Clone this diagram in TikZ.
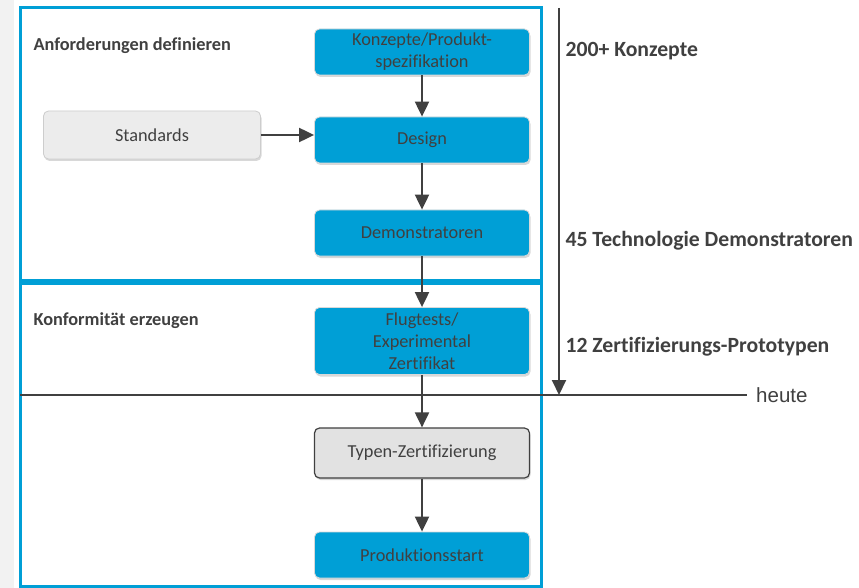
\documentclass[tikz,border=0pt]{standalone}
\usepackage{fontspec}
\setmainfont{Carlito}[Ligatures=NoCommon]
\newfontfamily\arialfont{Liberation Sans}
\usetikzlibrary{arrows.meta,shadows}
\definecolor{cblue}{RGB}{0,159,214}
\definecolor{ctext}{RGB}{64,64,64}
\definecolor{cgrayfill}{RGB}{226,226,226}
\definecolor{cstdfill}{RGB}{236,236,236}
\definecolor{cstdline}{RGB}{205,205,205}
\tikzset{
  bluebox/.style={rectangle, rounded corners=5pt, fill=cblue, draw=white!85!black, line width=0.8pt,
    minimum width=215pt, minimum height=46pt, text=ctext, align=center, inner sep=2pt, font=\fontsize{18.3}{22}\selectfont,
    drop shadow={shadow xshift=1pt, shadow yshift=-2pt, opacity=0.3}},
  graybox/.style={bluebox, fill=cgrayfill, draw=ctext, line width=1.2pt, minimum height=50pt},
  stdbox/.style={bluebox, fill=cstdfill, draw=cstdline, minimum width=217pt, minimum height=48pt},
  flow/.style={draw=ctext, line width=2pt, -{Triangle[width=14pt,length=15pt]}},
  frame/.style={draw=cblue, line width=3pt},
  sidelabel/.style={anchor=west, text=ctext, font=\bfseries\fontsize{21.7}{25}\selectfont},
  boxlabel/.style={anchor=west, text=ctext, font=\bfseries\fontsize{18.3}{22}\selectfont}
}
\begin{document}
\begin{tikzpicture}[x=1pt,y=-1pt]
\useasboundingbox (0,0) rectangle (859,588);
\fill[black!5] (0,0) rectangle (14,588);
\fill[white] (14,0) rectangle (859,588);
% frames
\draw[frame] (20,8) rectangle (541,280);
\draw[frame] (20,283) rectangle (541,586);
\node[boxlabel] (lab1) at (30,46) {Anforderungen definieren};
\node[boxlabel] (lab2) at (30,321) {Konformität erzeugen};
% nodes
\node[bluebox] (konz) at (422,52) {Konzepte/Produkt-\\spezifikation};
\node[bluebox] (design) at (422,140) {Design};
\node[stdbox] (std) at (152,135) {Standards};
\node[bluebox] (demo) at (422,233) {Demonstratoren};
\node[bluebox, minimum height=67pt] (flug) at (422,341) {Flugtests/\\Experimental\\Zertifikat};
\node[graybox] (typ) at (422,453) {Typen-Zertifizierung};
\node[bluebox] (prod) at (422,555) {Produktionsstart};
% flow arrows
\draw[flow] (konz) -- (design);
\draw[flow] (std) -- (std -| design.west);
\draw[flow] (design) -- (demo);
\draw[flow] (demo) -- (flug);
\draw[flow] (flug) -- (typ);
\draw[flow] (typ) -- (prod);
% timeline
\coordinate (ttop) at (559,8);
\coordinate (tbot) at (559,395);
\draw[flow] (ttop) -- (tbot);
\coordinate (hl) at (20,395);
\coordinate (hr) at (747,395);
\draw[draw=ctext, line width=1.5pt] (hl) -- (hr);
\node[anchor=west, text=ctext, font=\arialfont\fontsize{20.5}{23}\selectfont, inner sep=0pt] (heute) at (756,395) {heute};
\node[sidelabel] (s1) at (562,51) {200+ Konzepte};
\node[sidelabel] (s2) at (562,241) {45 Technologie Demonstratoren};
\node[sidelabel] (s3) at (562,347) {12 Zertifizierungs-Prototypen};
\end{tikzpicture}
\end{document}
